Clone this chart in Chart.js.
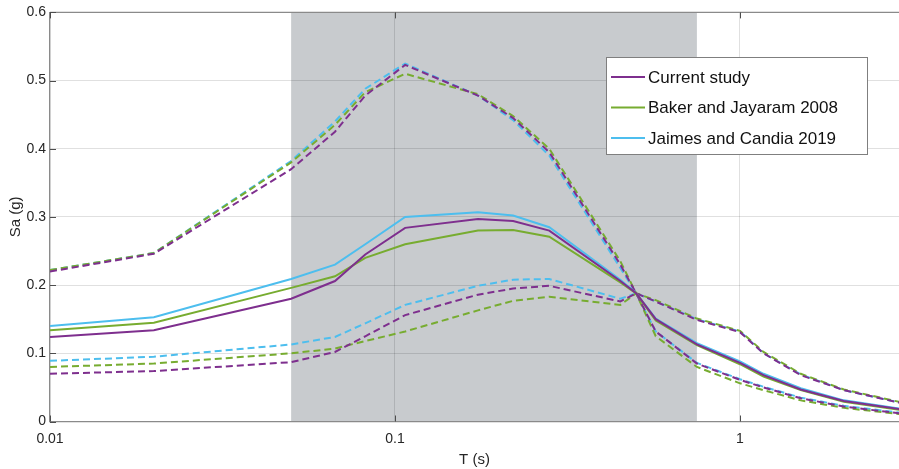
<!DOCTYPE html>
<html>
<head>
<meta charset="utf-8">
<title>Sa (g) vs T (s)</title>
<script src="https://cdn.jsdelivr.net/npm/chart.js@4.4.1/dist/chart.umd.min.js"></script>
<style>
  html, body { margin: 0; padding: 0; background: #fff; }
  #wrap { width: 899px; height: 469px; position: relative; }
</style>
</head>
<body>
<div id="wrap"><canvas id="spectra"></canvas></div>
<script>
// periods (s) shared by all curves
const periods = [0.01, 0.02, 0.05, 0.067, 0.082, 0.107, 0.174, 0.22, 0.28, 0.45, 0.5, 0.57, 0.75, 1, 1.17, 1.5, 2, 3];

// Current study
const currentMean  = [0.124, 0.134, 0.180, 0.206, 0.245, 0.284, 0.297, 0.294, 0.280, 0.206, 0.188, 0.150, 0.113, 0.086, 0.068, 0.047, 0.030, 0.017];
const currentUpper = [0.220, 0.246, 0.370, 0.425, 0.478, 0.523, 0.478, 0.445, 0.395, 0.230, 0.188, 0.176, 0.149, 0.131, 0.100, 0.068, 0.046, 0.026];
const currentLower = [0.070, 0.074, 0.087, 0.102, 0.125, 0.156, 0.186, 0.195, 0.199, 0.176, 0.188, 0.132, 0.085, 0.061, 0.050, 0.034, 0.022, 0.011];

// Baker and Jayaram 2008
const bakerMean  = [0.134, 0.145, 0.196, 0.213, 0.240, 0.260, 0.280, 0.281, 0.271, 0.204, 0.188, 0.148, 0.112, 0.084, 0.066, 0.046, 0.029, 0.016];
const bakerUpper = [0.222, 0.247, 0.380, 0.435, 0.483, 0.510, 0.480, 0.448, 0.400, 0.235, 0.188, 0.178, 0.151, 0.133, 0.102, 0.070, 0.047, 0.027];
const bakerLower = [0.080, 0.085, 0.100, 0.107, 0.118, 0.132, 0.163, 0.177, 0.183, 0.171, 0.188, 0.125, 0.080, 0.056, 0.046, 0.031, 0.020, 0.010];

// Jaimes and Candia 2019
const jaimesMean  = [0.140, 0.153, 0.209, 0.230, 0.260, 0.300, 0.307, 0.302, 0.285, 0.208, 0.188, 0.151, 0.115, 0.088, 0.070, 0.049, 0.031, 0.018];
const jaimesUpper = [0.222, 0.247, 0.382, 0.440, 0.488, 0.525, 0.478, 0.442, 0.390, 0.225, 0.188, 0.176, 0.150, 0.132, 0.100, 0.069, 0.046, 0.026];
const jaimesLower = [0.089, 0.095, 0.113, 0.124, 0.144, 0.171, 0.199, 0.208, 0.209, 0.180, 0.188, 0.132, 0.086, 0.062, 0.051, 0.035, 0.023, 0.012];

const seriesNames = ["Current study", "Baker and Jayaram 2008", "Jaimes and Candia 2019"];
const xTicks = [0.01, 0.1, 1];
const yTicks = [0, 0.1, 0.2, 0.3, 0.4, 0.5, 0.6];
const band = [0.05, 0.75];   // shaded period range

const PURPLE = "#7E2F8E", GREEN = "#77AC30", CYAN = "#4DBEEE";
const FONT = "'Liberation Sans', Arial, Helvetica, sans-serif";

function pts(vals) {
  return periods.map((t, i) => ({ x: t, y: vals[i] }));
}
function solid(label, vals, color) {
  return { label, data: pts(vals), borderColor: color, backgroundColor: color,
           borderWidth: 2, pointRadius: 0, tension: 0, fill: false };
}
function dashed(label, vals, color) {
  return { label, data: pts(vals), borderColor: color, backgroundColor: color,
           borderWidth: 2, borderDash: [7, 4], pointRadius: 0, tension: 0, fill: false };
}

// gray band behind everything, drawn before the grid
const bandPlugin = {
  id: "band",
  beforeDraw(chart) {
    const { ctx, chartArea: a, scales: { x } } = chart;
    const x0 = x.getPixelForValue(band[0]);
    const x1 = x.getPixelForValue(band[1]);
    ctx.save();
    ctx.fillStyle = "#c8cbce";
    ctx.fillRect(x0, a.top, x1 - x0, a.bottom - a.top);
    ctx.restore();
  }
};

// axes box, inward ticks and the legend box
const framePlugin = {
  id: "frame",
  afterDraw(chart) {
    const { ctx, chartArea: a, scales: { x, y } } = chart;
    ctx.save();
    ctx.strokeStyle = "#8a8a8a";
    ctx.lineWidth = 1.2;
    ctx.beginPath();
    ctx.moveTo(a.left, a.top); ctx.lineTo(a.right, a.top);
    ctx.stroke();
    // inward tick marks
    ctx.strokeStyle = "#4d4d4d";
    ctx.lineWidth = 1;
    xTicks.forEach(v => {
      const px = Math.round(x.getPixelForValue(v)) + 0.5;
      ctx.beginPath();
      ctx.moveTo(px, a.bottom); ctx.lineTo(px, a.bottom - 6);
      ctx.moveTo(px, a.top); ctx.lineTo(px, a.top + 6);
      ctx.stroke();
    });
    yTicks.forEach(v => {
      const py = Math.round(y.getPixelForValue(v)) + 0.5;
      ctx.beginPath();
      ctx.moveTo(a.left, py); ctx.lineTo(a.left + 6, py);
      ctx.stroke();
    });

    // legend
    const lx = 606, ly = 57, lw = 261, lh = 97;
    ctx.fillStyle = "#ffffff";
    ctx.fillRect(lx, ly, lw, lh);
    ctx.strokeStyle = "#7f7f7f";
    ctx.lineWidth = 1;
    ctx.strokeRect(lx + 0.5, ly + 0.5, lw, lh);
    const colors = [PURPLE, GREEN, CYAN];
    ctx.font = "17px " + FONT;
    ctx.textBaseline = "middle";
    ctx.textAlign = "left";
    seriesNames.forEach((name, i) => {
      const ry = ly + 20 + i * 30.5;
      ctx.strokeStyle = colors[i];
      ctx.lineWidth = 2;
      ctx.beginPath();
      ctx.moveTo(lx + 5, ry); ctx.lineTo(lx + 39, ry);
      ctx.stroke();
      ctx.fillStyle = "#111111";
      ctx.fillText(name, lx + 42, ry + 1);
    });
    ctx.restore();
  }
};

new Chart(document.getElementById("spectra"), {
  type: "line",
  data: {
    datasets: [
      solid(seriesNames[0], currentMean, PURPLE),
      solid(seriesNames[1], bakerMean, GREEN),
      solid(seriesNames[2], jaimesMean, CYAN),
      dashed(seriesNames[0] + " +", currentUpper, PURPLE),
      dashed(seriesNames[1] + " +", bakerUpper, GREEN),
      dashed(seriesNames[2] + " +", jaimesUpper, CYAN),
      dashed(seriesNames[0] + " -", currentLower, PURPLE),
      dashed(seriesNames[1] + " -", bakerLower, GREEN),
      dashed(seriesNames[2] + " -", jaimesLower, CYAN)
    ]
  },
  options: {
    responsive: true,
    maintainAspectRatio: false,
    animation: false,
    layout: { padding: { top: 12, right: 0, left: 0, bottom: 0 } },
    plugins: {
      legend: { display: false },
      tooltip: { enabled: false }
    },
    scales: {
      x: {
        type: "logarithmic",
        min: 0.01,
        max: 2.89,
        afterBuildTicks: axis => { axis.ticks = xTicks.map(v => ({ value: v })); },
        afterFit: axis => { axis.height = 47.5; },
        ticks: {
          callback: v => String(v),
          font: { family: FONT, size: 14 },
          color: "#262626",
          padding: 9,
          maxRotation: 0
        },
        grid: { color: "rgba(0,0,0,0.12)", drawTicks: false },
        border: { color: "#8a8a8a", width: 1.2 },
        title: {
          display: true, text: "T (s)",
          font: { family: FONT, size: 15 }, color: "#262626",
          padding: { top: 0, bottom: 0 }
        }
      },
      y: {
        min: 0,
        max: 0.6,
        afterBuildTicks: axis => { axis.ticks = yTicks.map(v => ({ value: v })); },
        afterFit: axis => { axis.width = 50; },
        ticks: {
          callback: v => (v === 0 ? "0" : v.toFixed(1)),
          font: { family: FONT, size: 14 },
          color: "#262626",
          padding: 4
        },
        grid: { color: "rgba(0,0,0,0.12)", drawTicks: false },
        border: { color: "#8a8a8a", width: 1.2 },
        title: {
          display: true, text: "Sa (g)",
          font: { family: FONT, size: 15 }, color: "#262626",
          padding: { top: 7, bottom: 0 }
        }
      }
    }
  },
  plugins: [bandPlugin, framePlugin]
});
</script>
</body>
</html>
